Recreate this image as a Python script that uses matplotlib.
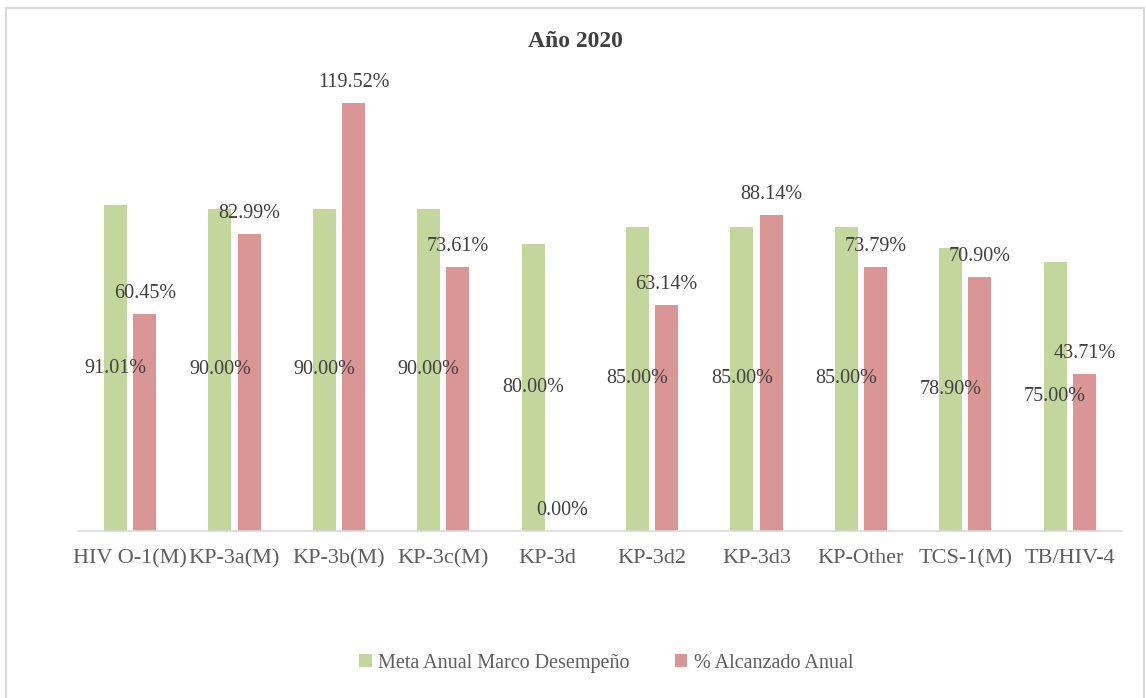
import numpy as np
import matplotlib.pyplot as plt
from matplotlib.patches import Rectangle
plt.switch_backend('Agg')

plt.rcParams['font.family'] = ['Liberation Serif', 'DejaVu Serif']

categories = ['HIV O-1(M)', 'KP-3a(M)', 'KP-3b(M)', 'KP-3c(M)', 'KP-3d',
              'KP-3d2', 'KP-3d3', 'KP-Other', 'TCS-1(M)', 'TB/HIV-4']
meta = [91.01, 90.00, 90.00, 90.00, 80.00, 85.00, 85.00, 85.00, 78.90, 75.00]
alcanzado = [60.45, 82.99, 119.52, 73.61, 0.00, 63.14, 88.14, 73.79, 70.90, 43.71]

green = '#c3d69b'
red = '#d99694'
text_col = '#404040'

fig = plt.figure(figsize=(11.46, 6.98), dpi=100)
# outer chart frame
fig.add_artist(Rectangle((0.005, -0.01), 0.993, 0.999, transform=fig.transFigure,
                         fill=False, edgecolor='#d9d9d9', linewidth=1.5))

ax = fig.add_axes([0.068, 0.2393, 0.911, 0.667])
x = np.arange(len(categories))
w = 0.22
b1 = ax.bar(x - 0.14, meta, w, color=green, label='Meta Anual Marco Desempeño')
b2 = ax.bar(x + 0.14, alcanzado, w, color=red, label='% Alcanzado Anual')

ax.bar_label(b1, labels=[f'{v:.2f}%' for v in meta], label_type='center',
             fontsize=14.5, color=text_col)
ax.bar_label(b2, labels=[f'{v:.2f}%' for v in alcanzado], padding=8,
             fontsize=14.5, color=text_col)

ax.set_xlim(-0.5, len(categories) - 0.5)
ax.set_ylim(0, 130)
ax.set_yticks([])
ax.set_xticks(x)
ax.set_xticklabels(categories, fontsize=16, color='#5f5f5f')
ax.tick_params(axis='x', length=0, pad=13)
for s in ['top', 'right', 'left']:
    ax.spines[s].set_visible(False)
ax.spines['bottom'].set_color('#d9d9d9')
ax.spines['bottom'].set_linewidth(1.2)

fig.text(0.502, 0.94, 'Año 2020', ha='center', va='center', fontsize=17,
         fontweight='bold', color=text_col)

leg = fig.legend(loc='center', bbox_to_anchor=(0.529, 0.050), ncol=2, frameon=False,
                 fontsize=14.5, handlelength=0.6, handleheight=0.6, handletextpad=0.3,
                 columnspacing=2.3)
for t in leg.get_texts():
    t.set_color('#5f5f5f')

fig.savefig('out.png', dpi=100)
